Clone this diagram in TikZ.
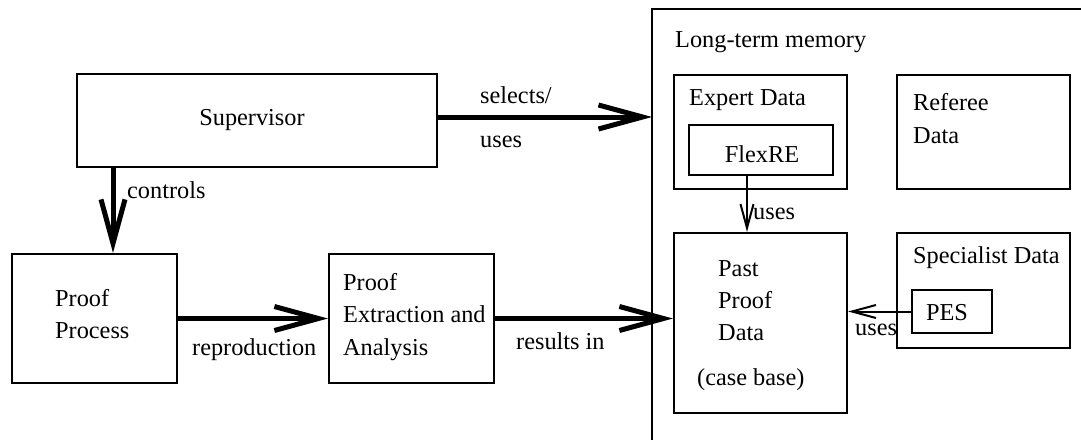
\documentclass[tikz,border=0pt]{standalone}
\usepackage{fontspec}
\setmainfont{Liberation Serif}
\usetikzlibrary{arrows.meta}
\begin{document}
\begin{tikzpicture}[x=1pt,y=-1pt,
  txt/.style={inner sep=0pt,anchor=mid west,yshift=-6pt,font=\fontsize{24.3}{29}\selectfont},
  ctxt/.style={inner sep=0pt,font=\fontsize{24.3}{29}\selectfont},
  boxx/.style={draw,line width=2.2pt,inner sep=0pt},
  bigarrow/.style={line width=5pt,-{Straight Barb[length=44pt,width=24pt]}},
  smallarrow/.style={line width=2pt,-{Straight Barb[length=24pt,width=13pt]}}]
\useasboundingbox (0,0) rectangle (1081,439);
% boxes
\node[boxx,minimum width=360pt,minimum height=93pt] (sup) at (257,120.5) {};
\node[boxx,minimum width=165pt,minimum height=129pt] (pp) at (94.5,318.5) {};
\node[boxx,minimum width=165pt,minimum height=129pt] (pea) at (411.5,318.5) {};
\node[boxx,minimum width=173pt,minimum height=114pt] (exp) at (760.5,132) {};
\node[boxx,minimum width=144pt,minimum height=50pt] (flex) at (761,150) {};
\node[boxx,minimum width=173pt,minimum height=114pt] (ref) at (983.5,132) {};
\node[boxx,minimum width=173pt,minimum height=180pt] (ppd) at (760.5,323) {};
\node[boxx,minimum width=173pt,minimum height=115pt] (spec) at (983.5,290.5) {};
\node[boxx,minimum width=80pt,minimum height=43pt] (pes) at (952,311.5) {};
% long-term memory frame
\draw[line width=2.2pt] (652,445) -- (652,9) -- (1090,9);
\coordinate (ltmA) at (652,117);
\coordinate (ctl) at (113,200);
\coordinate (fx) at (747,200);
% texts
\node[ctxt] (tsup) at (252,120) {Supervisor};
\node[txt] (tsel) at (480,95) {selects/};
\node[txt] (tuse1) at (480,139) {uses};
\node[txt] (tctl) at (127,190) {controls};
\node[txt] (tpp1) at (55,298) {Proof};
\node[txt] (tpp2) at (55,330) {Process};
\node[txt] (tpe1) at (343,282) {Proof};
\node[txt] (tpe2) at (343,314) {Extraction and};
\node[txt] (tpe3) at (343,347) {Analysis};
\node[txt] (trep) at (192,347) {reproduction};
\node[txt] (tres) at (516,341) {results in};
\node[txt] (tltm) at (675,39) {Long-term memory};
\node[txt] (texp) at (689,97) {Expert Data};
\node[ctxt] (tflex) at (762,154) {FlexRE};
\node[txt] (tref1) at (913,102) {Referee};
\node[txt] (tref2) at (913,135) {Data};
\node[txt] (tuse2) at (753,211) {uses};
\node[txt] (tppd1) at (718,268) {Past};
\node[txt] (tppd2) at (718,300) {Proof};
\node[txt] (tppd3) at (718,332) {Data};
\node[txt] (tppd4) at (697,377) {(case base)};
\node[txt] (tspec) at (913,255) {Specialist Data};
\node[ctxt] (tpes) at (947,313) {PES};
\node[txt] (tuse3) at (855,327) {uses};
% connectors
\draw[bigarrow] (sup.east |- ltmA) -- (ltmA);
\draw[bigarrow] (sup.south -| ctl) -- (pp.north -| ctl);
\draw[bigarrow] (pp.east) -- (pea.west);
\draw[bigarrow] (pea.east) -- (pea.east -| ppd.west);
\draw[smallarrow] (flex.south -| fx) -- (ppd.north -| fx);
\draw[smallarrow] (pes.west) -- (pes.west -| ppd.east);
\end{tikzpicture}
\end{document}
